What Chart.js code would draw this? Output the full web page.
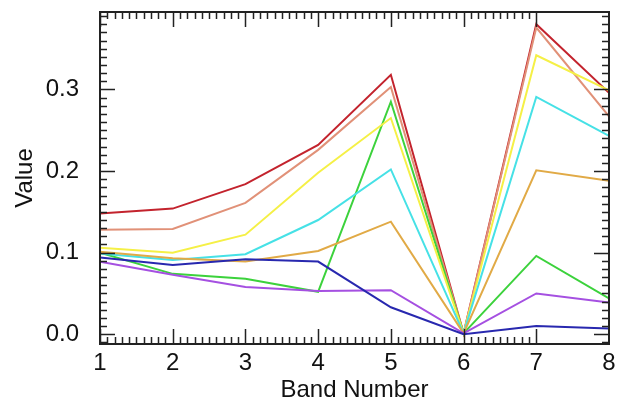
<!DOCTYPE html>
<html>
<head>
<meta charset="utf-8">
<script src="https://cdn.jsdelivr.net/npm/chart.js@4/dist/chart.umd.min.js"></script>
<style>
  html, body { margin: 0; padding: 0; background: #fff; }
  canvas { display: block; }
</style>
</head>
<body>
<canvas id="myChart" width="625" height="404"></canvas>
<script>
const bands = [1, 2, 3, 4, 5, 6, 7, 8];
const yTicks = [0, 0.1, 0.2, 0.3];

const redVals = [0.148, 0.154, 0.184, 0.232, 0.318, 0.001, 0.380, 0.296];
const salmonVals = [0.128, 0.129, 0.161, 0.226, 0.303, 0.001, 0.376, 0.267];
const yellowVals = [0.106, 0.100, 0.122, 0.198, 0.265, 0.001, 0.342, 0.299];
const cyanVals = [0.099, 0.091, 0.098, 0.140, 0.202, 0.001, 0.291, 0.243];
const orangeVals = [0.101, 0.093, 0.089, 0.102, 0.138, 0.001, 0.201, 0.188];
const greenVals = [0.100, 0.074, 0.068, 0.052, 0.285, 0.001, 0.096, 0.044];
const purpleVals = [0.089, 0.073, 0.058, 0.053, 0.054, 0.001, 0.050, 0.039];
const blueVals = [0.094, 0.085, 0.092, 0.089, 0.033, 0.000, 0.010, 0.007];

const series = [
  { vals: blueVals, color: "rgb(40, 40, 175)" },
  { vals: purpleVals, color: "rgb(165, 80, 225)" },
  { vals: orangeVals, color: "rgb(225, 170, 70)" },
  { vals: cyanVals, color: "rgb(70, 225, 230)" },
  { vals: yellowVals, color: "rgb(245, 240, 70)" },
  { vals: greenVals, color: "rgb(60, 210, 60)" },
  { vals: salmonVals, color: "rgb(225, 145, 120)" },
  { vals: redVals, color: "rgb(195, 35, 45)" },
];

const font = "'Liberation Sans', Arial, sans-serif";

// frame + inward ticks on all four sides
const frameTicks = {
  id: "frameTicks",
  afterDraw(chart) {
    const { ctx, chartArea: a } = chart;
    const xs = chart.scales.x;
    const ys = chart.scales.y;
    ctx.save();
    ctx.strokeStyle = "#222";
    ctx.lineWidth = 1.5;
    ctx.beginPath();
    for (let i = 10; i <= 70; i++) {
      const v = i / 10;
      const px = Math.round(xs.getPixelForValue(v)) + 0.5;
      const len = i % 10 === 0 ? 15 : 7;
      ctx.moveTo(px, a.bottom);
      ctx.lineTo(px, a.bottom - len);
      ctx.moveTo(px, a.top);
      ctx.lineTo(px, a.top + len);
    }
    for (let i = -1; i <= 39; i++) {
      const v = i / 100;
      const py = Math.round(ys.getPixelForValue(v)) + 0.5;
      const len = i % 10 === 0 ? 15 : 7;
      ctx.moveTo(a.left, py);
      ctx.lineTo(a.left + len, py);
      ctx.moveTo(a.right, py);
      ctx.lineTo(a.right - len, py);
    }
    ctx.stroke();
    ctx.lineWidth = 2;
    ctx.strokeRect(a.left, a.top, a.right - a.left, a.bottom - a.top);
    ctx.restore();
  },
};

const ctx = document.getElementById("myChart").getContext("2d");
new Chart(ctx, {
  type: "line",
  data: {
    datasets: series.map((s) => ({
      data: bands.map((b, i) => ({ x: b, y: s.vals[i] })),
      borderColor: s.color,
      borderWidth: 2,
      pointRadius: 0,
      fill: false,
      tension: 0,
    })),
  },
  options: {
    responsive: false,
    devicePixelRatio: 1,
    animation: false,
    layout: { padding: { top: 12, right: 16 } },
    plugins: { legend: { display: false }, tooltip: { enabled: false } },
    scales: {
      x: {
        type: "linear",
        min: 1,
        max: 8,
        grid: { display: false },
        border: { display: false },
        ticks: {
          stepSize: 1,
          color: "#111",
          padding: -3,
          font: { family: font, size: 24 },
        },
        title: {
          display: true,
          text: "Band Number",
          color: "#111",
          padding: { top: 0, bottom: -1 },
          font: { family: font, size: 24 },
        },
        afterFit(scale) {
          scale.height = 60;
          scale.paddingLeft = 0;
          scale.paddingRight = 0;
        },
      },
      y: {
        min: -0.012,
        max: 0.395,
        grid: { display: false },
        border: { display: false },
        afterBuildTicks(scale) {
          scale.ticks = yTicks.map((v) => ({ value: v }));
        },
        ticks: {
          color: "#111",
          padding: 13,
          font: { family: font, size: 24 },
          callback: (v) => Number(v).toFixed(1),
        },
        title: {
          display: true,
          text: "Value",
          color: "#111",
          padding: { top: 11, bottom: 0 },
          font: { family: font, size: 24 },
        },
        afterFit(scale) {
          scale.width = 100;
          scale.paddingTop = 0;
          scale.paddingBottom = 0;
        },
      },
    },
  },
  plugins: [frameTicks],
});
</script>
</body>
</html>
